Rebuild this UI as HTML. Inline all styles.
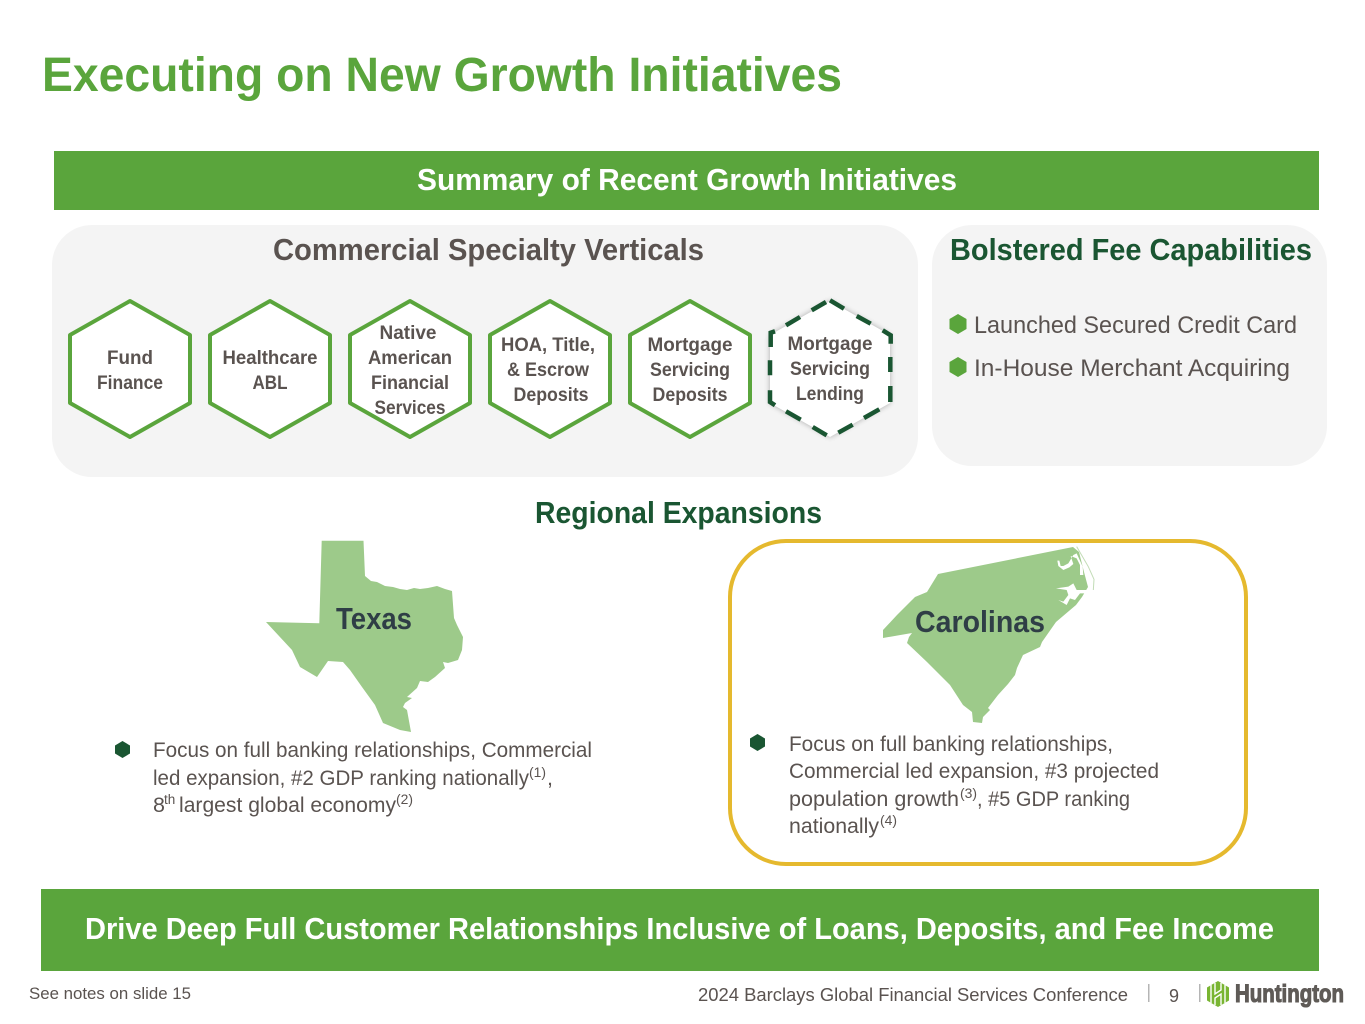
<!DOCTYPE html>
<html><head><meta charset="utf-8"><style>
html,body{margin:0;padding:0;background:#fff}
svg{display:block}
text{font-family:"Liberation Sans",sans-serif}
.b{font-weight:bold}
.h{font-weight:bold;font-size:19.5px;fill:#5a5350;text-anchor:middle}
.t{font-size:21.5px;fill:#5a5350}
.s{font-size:13.5px;fill:#5a5350}
</style></head><body>
<svg width="1365" height="1024" viewBox="0 0 1365 1024" xmlns="http://www.w3.org/2000/svg">
<defs><filter id="sh" x="-20%" y="-20%" width="140%" height="140%"><feGaussianBlur stdDeviation="3"/></filter></defs>
<rect width="1365" height="1024" fill="#fff"/>
<text x="42" y="91" class="b" font-size="48" fill="#5aa53c" textLength="800" lengthAdjust="spacingAndGlyphs">Executing on New Growth Initiatives</text>
<rect x="54" y="151" width="1265" height="59" fill="#5aa53c"/>
<text x="417" y="190" class="b" font-size="31" fill="#fff" textLength="540" lengthAdjust="spacingAndGlyphs">Summary of Recent Growth Initiatives</text>
<rect x="52" y="225" width="866" height="252" rx="40" fill="#f4f4f4"/>
<rect x="932" y="225" width="395" height="241" rx="40" fill="#f4f4f4"/>
<text x="273" y="260" class="b" font-size="31" fill="#5a5350" textLength="431" lengthAdjust="spacingAndGlyphs">Commercial Specialty Verticals</text>
<text x="950" y="260" class="b" font-size="31" fill="#1a5632" textLength="362" lengthAdjust="spacingAndGlyphs">Bolstered Fee Capabilities</text>

<g fill="#fff" stroke="#5aa53c" stroke-width="4" stroke-linejoin="round">
<polygon points="130,301 190,335 190,403 130,437 70,403 70,335"/>
<polygon points="270,301 330,335 330,403 270,437 210,403 210,335"/>
<polygon points="410,301 470,335 470,403 410,437 350,403 350,335"/>
<polygon points="550,301 610,335 610,403 550,437 490,403 490,335"/>
<polygon points="690,301 750,335 750,403 690,437 630,403 630,335"/>
</g>
<polygon points="830,301 890,335 890,403 830,437 770,403 770,335" fill="#000" opacity=".3" filter="url(#sh)"/>
<polygon points="830,301 890,335 890,403 830,437 770,403 770,335" fill="#fff"/>
<path d="M830,300.300L844,308.700M856.700,316L870.700,323.700M882.700,330.300L890.700,335.300V343.700M890.300,357V372M890.300,386V402M879.300,409.300L864,418M852.700,424.700L838.300,432.700M826.700,435.300L812.700,427M800.700,419.700L786,411.300M775,405.300L770,402V390.300M770,375.300V360.300M770.700,347V332.700L775,331.300M786,325.300L800,317M811.700,310.300L826,302" fill="none" stroke="#1a5632" stroke-width="4.500"/>

<text x="130" y="364" class="h" textLength="46" lengthAdjust="spacingAndGlyphs">Fund</text>
<text x="130" y="389" class="h" textLength="66" lengthAdjust="spacingAndGlyphs">Finance</text>
<text x="270" y="364" class="h" textLength="95" lengthAdjust="spacingAndGlyphs">Healthcare</text>
<text x="270" y="389" class="h" textLength="35" lengthAdjust="spacingAndGlyphs">ABL</text>
<text x="408" y="339" class="h" textLength="57" lengthAdjust="spacingAndGlyphs">Native</text>
<text x="410" y="364" class="h" textLength="84" lengthAdjust="spacingAndGlyphs">American</text>
<text x="410" y="389" class="h" textLength="78" lengthAdjust="spacingAndGlyphs">Financial</text>
<text x="410" y="414" class="h" textLength="71" lengthAdjust="spacingAndGlyphs">Services</text>
<text x="548" y="351" class="h" textLength="94" lengthAdjust="spacingAndGlyphs">HOA, Title,</text>
<text x="548" y="376" class="h" textLength="82" lengthAdjust="spacingAndGlyphs">&amp; Escrow</text>
<text x="551" y="401" class="h" textLength="75" lengthAdjust="spacingAndGlyphs">Deposits</text>
<text x="690" y="351" class="h" textLength="85" lengthAdjust="spacingAndGlyphs">Mortgage</text>
<text x="690" y="376" class="h" textLength="80" lengthAdjust="spacingAndGlyphs">Servicing</text>
<text x="690" y="401" class="h" textLength="75" lengthAdjust="spacingAndGlyphs">Deposits</text>
<text x="830" y="350" class="h" textLength="85" lengthAdjust="spacingAndGlyphs">Mortgage</text>
<text x="830" y="375" class="h" textLength="80" lengthAdjust="spacingAndGlyphs">Servicing</text>
<text x="830" y="400" class="h" textLength="68" lengthAdjust="spacingAndGlyphs">Lending</text>

<polygon points="958,314 966.500,319 966.500,329 958,334 949.500,329 949.500,319" fill="#5aa53c"/>
<polygon points="958,357 966.500,362 966.500,372 958,377 949.500,372 949.500,362" fill="#5aa53c"/>
<text x="974" y="333" font-size="24" fill="#5a5350" textLength="323" lengthAdjust="spacingAndGlyphs">Launched Secured Credit Card</text>
<text x="974" y="376" font-size="24" fill="#5a5350" textLength="316" lengthAdjust="spacingAndGlyphs">In-House Merchant Acquiring</text>

<text x="535" y="523" class="b" font-size="31" fill="#1a5632" textLength="287" lengthAdjust="spacingAndGlyphs">Regional Expansions</text>

<polygon fill="#9dca8a" points="321.700,540.700 363.500,540.700 365,576 371,581 377,582 385,586 393,587 400,589 407,590 414,588 420,589 428,588 437,586 445,589 452,591 454,618 457,625 463,637 462,650 458,660 448,663 443,662 445,668 435,677 428,682 420,681 417,688 407,697 412,698 405,703 403,707 407,710 411,732 400,730 383,723 375,705 362,687 350,670 343,662 328,661 317,677 300,667 292,650 266,622 319.300,623.300"/>
<text x="336" y="629" class="b" font-size="31" fill="#2f3e46" textLength="76" lengthAdjust="spacingAndGlyphs">Texas</text>

<rect x="730" y="541" width="516" height="323" rx="56" fill="#fff" stroke="#e5b92e" stroke-width="4"/>
<polygon fill="#9dca8a" points="1073,547 1079,552 1084,572 1088,587 1082,597 1076,605 1056,622 1042,642 1040,647 1023,655 1017,668 1015,675 1008,684 998,695 988,708 990,710 983,717 982,723 973,722 972,712 963,705 950,685 927,662 907,643 909,637 912,633 883,638 883,630 897,615 912,600 915,597 927,592 938,574"/>
<g transform="translate(1030 540) scale(.33333)">
<polygon fill="#fff" points="82,62 85,78 100,90 118,82 130,72 122,48 140,55 150,75 150,105 160,105 158,80 140,40 130,45 115,70 100,78 92,78 88,62"/>
<polygon fill="#fff" points="78,145 115,140 130,130 140,150 190,150 180,160 150,160 135,180 120,175 110,195 85,180 100,185 115,165 110,150"/>
<path d="M140,20L175,80L192,118L190,150" fill="none" stroke="#c2dcb6" stroke-width="3"/>
</g>
<text x="915" y="632" class="b" font-size="31" fill="#2f3e46" textLength="130" lengthAdjust="spacingAndGlyphs">Carolinas</text>

<polygon points="122.500,741 130,745.500 130,753.500 122.500,758 115,753.500 115,745.500" fill="#1a5632"/>
<text x="153" y="757" class="t" textLength="439" lengthAdjust="spacingAndGlyphs">Focus on full banking relationships, Commercial</text>
<text x="153" y="785" class="t" textLength="376" lengthAdjust="spacingAndGlyphs">led expansion, #2 GDP ranking nationally</text>
<text x="529" y="777" class="s" textLength="17" lengthAdjust="spacingAndGlyphs">(1)</text>
<text x="547" y="785" class="t">,</text>
<text x="153" y="812" class="t">8</text>
<text x="164" y="804" class="s">th</text>
<text x="179" y="812" class="t" textLength="217" lengthAdjust="spacingAndGlyphs">largest global economy</text>
<text x="396" y="804" class="s" textLength="17" lengthAdjust="spacingAndGlyphs">(2)</text>

<polygon points="757.500,734 765,738.500 765,746.500 757.500,751 750,746.500 750,738.500" fill="#1a5632"/>
<text x="789" y="751" class="t" textLength="324" lengthAdjust="spacingAndGlyphs">Focus on full banking relationships,</text>
<text x="789" y="778" class="t" textLength="370" lengthAdjust="spacingAndGlyphs">Commercial led expansion, #3 projected</text>
<text x="789" y="806" class="t" textLength="170" lengthAdjust="spacingAndGlyphs">population growth</text>
<text x="960" y="798" class="s" textLength="17" lengthAdjust="spacingAndGlyphs">(3)</text>
<text x="977" y="806" class="t" textLength="153" lengthAdjust="spacingAndGlyphs">, #5 GDP ranking</text>
<text x="789" y="833" class="t" textLength="90" lengthAdjust="spacingAndGlyphs">nationally</text>
<text x="880" y="825" class="s" textLength="17" lengthAdjust="spacingAndGlyphs">(4)</text>

<rect x="41" y="889" width="1278" height="82" fill="#5aa53c"/>
<text x="85" y="939" class="b" font-size="31" fill="#fff" textLength="1189" lengthAdjust="spacingAndGlyphs">Drive Deep Full Customer Relationships Inclusive of Loans, Deposits, and Fee Income</text>

<text x="29" y="999" font-size="17" fill="#5a5350" textLength="162" lengthAdjust="spacingAndGlyphs">See notes on slide 15</text>
<text x="698" y="1001" font-size="18" fill="#5a5350" textLength="430" lengthAdjust="spacingAndGlyphs">2024 Barclays Global Financial Services Conference</text>
<rect x="1148" y="984" width="1.500" height="18" fill="#b5b5b5"/>
<text x="1169" y="1002" font-size="18" fill="#5a5350">9</text>
<rect x="1199" y="984" width="1.500" height="18" fill="#b5b5b5"/>
<polygon points="1218,981 1229,987.500 1229,1000.500 1218,1007 1207,1000.500 1207,987.500" fill="#79b532"/>
<path d="M1211,985V1003M1225,985V1003M1215,983V994L1221,990V983M1215,1005V998L1221,994V1005" stroke="#fff" stroke-width="1.400" fill="none"/>
<text x="1235" y="1002" class="b" font-size="25" fill="#5f5b57" stroke="#5f5b57" stroke-width="1.100" textLength="109" lengthAdjust="spacingAndGlyphs">Huntington</text>
</svg>
</body></html>
